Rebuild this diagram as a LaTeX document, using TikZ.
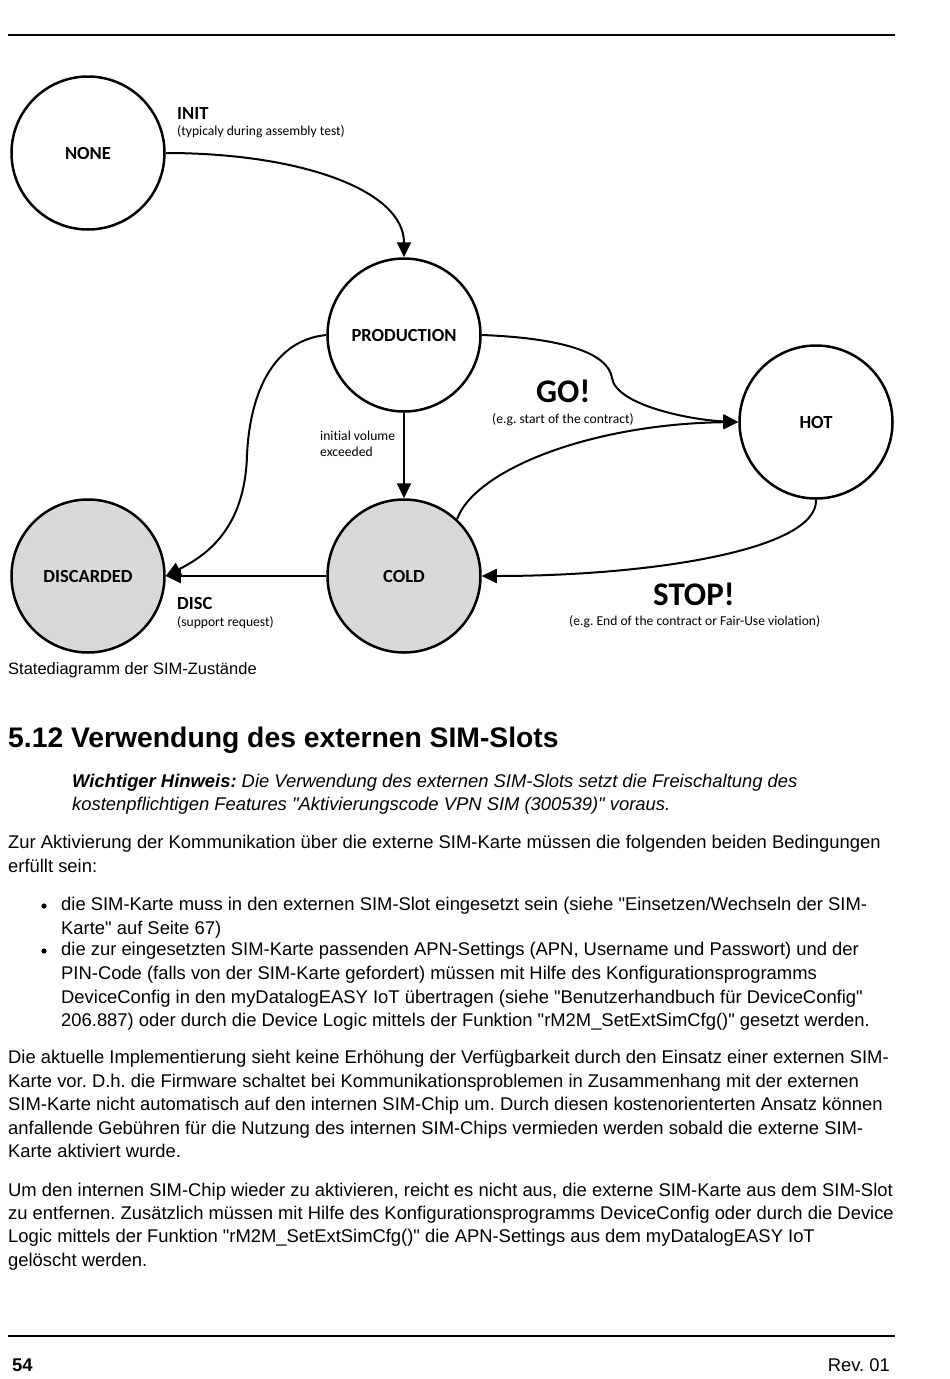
\documentclass[tikz,border=0pt]{standalone}
\usepackage{fontspec}
\setmainfont{Liberation Sans}[Ligatures=TeXOff]
\newfontfamily\diagfont{Carlito}[Ligatures=NoCommon]
\usetikzlibrary{arrows.meta,positioning}
\definecolor{stategray}{HTML}{D9D9D9}

\tikzset{
  state/.style={circle, draw, line width=2.5pt, minimum size=153pt, inner sep=0pt,
    font=\diagfont\bfseries\fontsize{18.5}{20}\selectfont},
  offstate/.style={state, fill=stategray},
  trans/.style={line width=2pt, -{Triangle[length=15pt,width=14pt]}},
  evlabel/.style={anchor=base west, inner sep=0pt, font=\diagfont\bfseries\fontsize{18.5}{20}\selectfont},
  note/.style={anchor=base west, inner sep=0pt, font=\frenchspacing\diagfont\fontsize{13.6}{15}\selectfont},
  shout/.style={anchor=base west, inner sep=0pt, font=\diagfont\bfseries\fontsize{33}{35}\selectfont},
  bodyline/.style={anchor=base west, inner sep=0pt, font=\frenchspacing\fontsize{18.4}{24}\selectfont},
  pagerule/.style={line width=1.5pt},
}

\begin{document}
\begin{tikzpicture}[x=1pt, y=-1pt]
  \useasboundingbox (0,0) rectangle (950,1379);

  % Page rules
  \coordinate (topl) at (8,35);
  \coordinate (topr) at (895,35);
  \coordinate (botl) at (8,1336);
  \coordinate (botr) at (895,1336);
  \draw[pagerule] (topl) -- (topr);
  \draw[pagerule] (botl) -- (botr);

  % States of the SIM
  \node[state] (none) at (88,153) {NONE};
  \node[state] (prod) at (404,335) {PRODUCTION};
  \node[state] (hot) at (816,422) {HOT};
  \node[offstate] (cold) at (404,576) {COLD};
  \node[offstate] (disc) at (88,576) {DISCARDED};

  % Transitions
  \draw[trans] (none.east) .. controls (300,153) and (404,190) .. (prod.north);
  \draw[trans] (prod.south) -- (cold.north);
  \draw[trans] (prod.west) .. controls (275,340) and (250,390) .. (247,455)
    .. controls (245,530) and (205,556) .. (disc.east);
  \draw[trans] (cold.west) -- (disc.east);
  \draw[trans] (prod.east) .. controls (560,338) and (608,352) .. (612,378)
    .. controls (616,405) and (690,420) .. (hot.west);
  \draw[trans] (cold.47) .. controls (475,470) and (590,424) .. (hot.west);
  \draw[trans] (hot.south) .. controls (818,550) and (650,576) .. (cold.east);

  % Transition labels
  \node[evlabel] (initlbl) at (177,119) {INIT};
  \node[note] (initnote) at (177,135) {(typicaly during assembly test)};
  \node[note] (vollbl) at (320,440) {initial volume};
  \node[note] (volnote) at (320,456) {exceeded};
  \node[shout] (golbl) at (536,402) {GO!};
  \node[note] (gonote) at (492,423) {(e.g. start of the contract)};
  \node[shout] (stoplbl) at (653,605) {STOP!};
  \node[note] (stopnote) at (569,625) {(e.g. End of the contract or Fair-Use violation)};
  \node[evlabel] (disclbl) at (177,609) {DISC};
  \node[note] (discnote) at (177,626) {(support request)};

  % Caption and heading
  \node[bodyline, font=\fontsize{16.5}{20}\selectfont] (caption) at (8,674) {Statediagramm der SIM-Zustände};
  \node[anchor=base west, inner sep=0pt, font=\bfseries\fontsize{28.3}{30}\selectfont]
    (heading) at (8,747) {5.12 Verwendung des externen SIM-Slots};

  % Note
  \node[bodyline] (hint1) at (72,787)
    {\textbf{\textit{Wichtiger Hinweis:}} \textit{Die Verwendung des externen SIM-Slots setzt die Freischaltung des}};
  \node[bodyline] (hint2) at (72,810)
    {\textit{kostenpflichtigen Features "Aktivierungscode VPN SIM (300539)" voraus.}};

  % Body text, one line per node
  \foreach \yb/\txt in {
    848/{Zur Aktivierung der Kommunikation über die externe SIM-Karte müssen die folgenden beiden Bedingungen},
    872/{erfüllt sein:},
    1063/{Die aktuelle Implementierung sieht keine Erhöhung der Verfügbarkeit durch den Einsatz einer externen SIM-},
    1087/{Karte vor. D.h. die Firmware schaltet bei Kommunikationsproblemen in Zusammenhang mit der externen},
    1110/{SIM-Karte nicht automatisch auf den internen SIM-Chip um. Durch diesen kostenorienterten Ansatz können},
    1134/{anfallende Gebühren für die Nutzung des internen SIM-Chips vermieden werden sobald die externe SIM-},
    1157/{Karte aktiviert wurde.},
    1196/{Um den internen SIM-Chip wieder zu aktivieren, reicht es nicht aus, die externe SIM-Karte aus dem SIM-Slot},
    1219/{zu entfernen. Zusätzlich müssen mit Hilfe des Konfigurationsprogramms DeviceConfig oder durch die Device},
    1242/{Logic mittels der Funktion "rM2M\_SetExtSimCfg()" die APN-Settings aus dem myDatalogEASY IoT},
    1266/{gelöscht werden.}%
  } {
    \node[bodyline] at (8,\yb) {\txt};
  }

  % Bulleted conditions
  \fill (44,906) circle (2.6);
  \fill (44,951) circle (2.6);
  \foreach \yb/\txt in {
    910/{die SIM-Karte muss in den externen SIM-Slot eingesetzt sein (siehe "Einsetzen/Wechseln der SIM-},
    934/{Karte" auf Seite 67)},
    955/{die zur eingesetzten SIM-Karte passenden APN-Settings (APN, Username und Passwort) und der},
    979/{PIN-Code (falls von der SIM-Karte gefordert) müssen mit Hilfe des Konfigurationsprogramms},
    1003/{DeviceConfig in den myDatalogEASY IoT übertragen (siehe "Benutzerhandbuch für DeviceConfig"},
    1026/{206.887) oder durch die Device Logic mittels der Funktion "rM2M\_SetExtSimCfg()" gesetzt werden.}%
  } {
    \node[bodyline] at (61,\yb) {\txt};
  }

  % Footer
  \node[bodyline, font=\bfseries\fontsize{18.4}{24}\selectfont] (pageno) at (12,1371) {54};
  \node[bodyline, anchor=base east] (rev) at (890,1371) {Rev. 01};
\end{tikzpicture}
\end{document}
